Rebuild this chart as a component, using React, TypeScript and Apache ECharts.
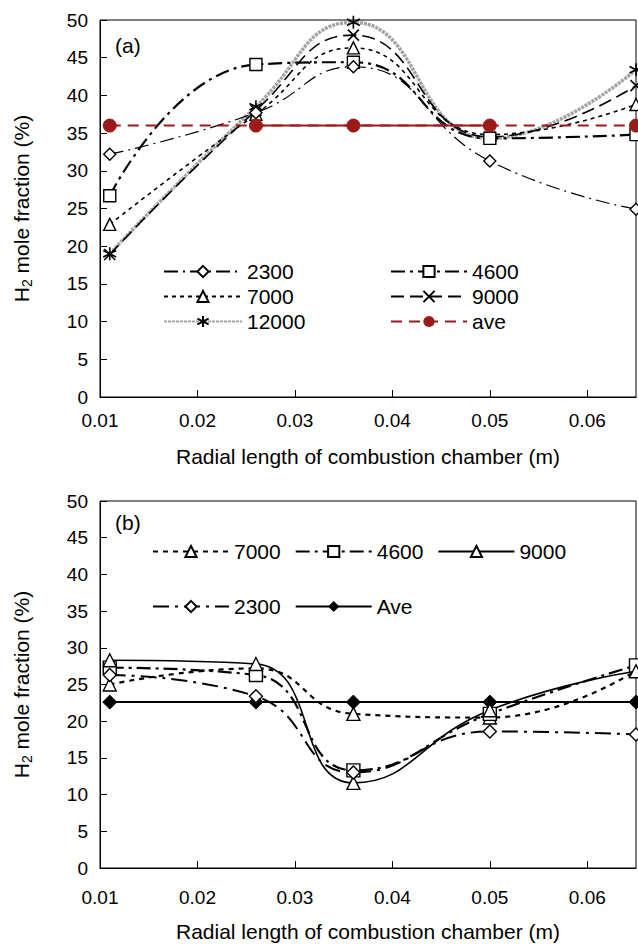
import React, { useEffect, useRef } from 'react';
import * as echarts from 'echarts';

const FONT = "'Liberation Sans', Arial, Helvetica, sans-serif";

// x positions (m)
const xPositions = [0.011, 0.026, 0.036, 0.05, 0.065];
const xMin = 0.01;
const xMax = 0.065;
const xInterval = 0.01;
const yMin = 0;
const yMax = 50;
const yInterval = 5;

// (a) series
const topNames = ['2300', '4600', '7000', '9000', '12000', 'ave'];
const top2300 = [32.2, 37.7, 43.8, 31.3, 24.9];
const top4600 = [26.7, 44.1, 44.4, 34.3, 34.8];
const top7000 = [22.9, 37.5, 46.3, 34.8, 38.8];
const top9000 = [18.9, 38.0, 48.0, 34.5, 41.3];
const top12000 = [19.0, 38.5, 49.7, 34.3, 43.4];
const topAve = [36, 36, 36, 36, 36];

// (b) series
const botNames = ['7000', '4600', '9000', '2300', 'Ave'];
const bot7000 = [25.0, 27.2, 21.0, 20.5, 26.9];
const bot4600 = [27.3, 26.3, 13.3, 21.0, 27.6];
const bot9000 = [28.3, 27.8, 11.6, 21.5, 26.8];
const bot2300 = [26.3, 23.4, 13.0, 18.6, 18.2];
const botAve = [22.6, 22.6, 22.6, 22.6, 22.6];

const RED = '#9b1b1b';
const CROSS = 'path://M0,0L10,10M10,0L0,10';
const STAR = 'path://M5,0L5,10M0.67,2.5L9.33,7.5M9.33,2.5L0.67,7.5';

const pairs = (ys: number[], from = 0, to = ys.length) =>
  xPositions.slice(from, to).map((x, i) => [x, ys[from + i]]);

const hollow = (symbol: string, size: number) => ({
  symbol,
  symbolSize: size,
  itemStyle: { color: '#fff', borderColor: '#000', borderWidth: 1.4 },
});

const strokeSym = (symbol: string, size: number) => ({
  symbol,
  symbolSize: size,
  itemStyle: { color: '#000', borderColor: '#000', borderWidth: 1.6 },
});

function axes(labelMargin: number, nameGapX: number) {
  const xAxis = {
    type: 'value',
    min: xMin,
    max: xMax,
    interval: xInterval,
    name: 'Radial length of combustion chamber (m)',
    nameLocation: 'middle',
    nameGap: nameGapX,
    nameTextStyle: { fontSize: 21, color: '#000', fontFamily: FONT },
    axisLine: { lineStyle: { color: '#000', width: 1 } },
    axisTick: { inside: true, length: 7, lineStyle: { color: '#000' } },
    axisLabel: {
      fontSize: 19,
      color: '#000',
      fontFamily: FONT,
      margin: labelMargin,
      showMaxLabel: false,
      formatter: (v: number) => (v > 0.0605 ? '' : v.toFixed(2)),
    },
    splitLine: { show: false },
  };
  const yAxis = {
    type: 'value',
    min: yMin,
    max: yMax,
    interval: yInterval,
    name: '{a|H}{s|2}{a| mole fraction (%)}',
    nameLocation: 'middle',
    nameGap: 66,
    nameTextStyle: {
      color: '#000',
      fontFamily: FONT,
      rich: {
        a: { fontSize: 21, color: '#000', fontFamily: FONT, lineHeight: 26 },
        s: { fontSize: 14, color: '#000', fontFamily: FONT, lineHeight: 26, verticalAlign: 'bottom', padding: [10, 0, 0, 0] },
      },
    },
    axisLine: { show: true, lineStyle: { color: '#000', width: 1 } },
    axisTick: { show: true, inside: true, length: 7, lineStyle: { color: '#000' } },
    axisLabel: { fontSize: 19, color: '#000', fontFamily: FONT, margin: 12 },
    splitLine: { show: false },
  };
  return { xAxis, yAxis };
}

const legendText = { fontSize: 21, color: '#000', fontFamily: FONT, lineHeight: 20 };

function topOption() {
  const { xAxis, yAxis } = axes(14, 49);
  const base = { type: 'line', smooth: 0.5, clip: false, z: 3 };
  return {
    animation: false,
    grid: { left: 100, top: 20, width: 536, height: 377, show: true, borderColor: '#000', borderWidth: 1 },
    xAxis,
    yAxis,
    legend: [
      {
        left: 158, top: 256, orient: 'vertical', itemWidth: 78, itemHeight: 14, itemGap: 4,
        data: [topNames[0], topNames[2], topNames[4]], textStyle: legendText, selectedMode: false,
      },
      {
        left: 385, top: 256, orient: 'vertical', itemWidth: 76, itemHeight: 14, itemGap: 4,
        data: [topNames[1], topNames[3], topNames[5]], textStyle: legendText, selectedMode: false,
      },
    ],
    graphic: [
      { type: 'text', left: 115, top: 35, style: { text: '(a)', fontSize: 21, fill: '#000', fontFamily: FONT } },
    ],
    series: [
      {
        ...base, name: topNames[4], data: pairs(top12000), ...strokeSym(STAR, 13),
        lineStyle: { color: '#a3a3a3', width: 3.5, type: [3, 1] },
      },
      {
        ...base, name: topNames[3], data: pairs(top9000), ...strokeSym(CROSS, 11),
        lineStyle: { color: '#000', width: 1.6, type: [13, 6] },
      },
      {
        ...base, name: topNames[2], data: pairs(top7000), ...hollow('triangle', 12),
        lineStyle: { color: '#000', width: 1.6, type: [4, 4] },
      },
      {
        ...base, name: topNames[1], data: pairs(top4600), ...hollow('rect', 12),
        lineStyle: { color: '#000', width: 2.2, type: [14, 5, 3, 5] },
      },
      {
        ...base, name: topNames[0], data: pairs(top2300), ...hollow('diamond', 12),
        lineStyle: { color: '#000', width: 1.2, type: [14, 5, 2, 5] },
      },
      {
        type: 'line', name: 'ave-solid', data: pairs(topAve, 1, 4), showSymbol: false, clip: false, z: 4,
        lineStyle: { color: RED, width: 2 }, itemStyle: { color: RED },
      },
      {
        type: 'line', name: topNames[5], data: pairs(topAve), clip: false, z: 5,
        symbol: 'circle', symbolSize: 13,
        lineStyle: { color: RED, width: 2, type: [11, 7] },
        itemStyle: { color: RED, borderColor: RED },
      },
    ],
  };
}

function botOption() {
  const { xAxis, yAxis } = axes(20, 53);
  const base = { type: 'line', smooth: 0.5, clip: false, z: 3 };
  return {
    animation: false,
    grid: { left: 100, top: 27, width: 536, height: 378, show: true, borderColor: '#000', borderWidth: 1 },
    xAxis,
    yAxis,
    legend: [
      {
        left: 147, top: 62, orient: 'horizontal', itemWidth: 76, itemHeight: 14, itemGap: 14,
        data: [botNames[0], botNames[1], botNames[2]], textStyle: legendText, selectedMode: false,
      },
      {
        left: 147, top: 117, orient: 'horizontal', itemWidth: 76, itemHeight: 14, itemGap: 14,
        data: [botNames[3], botNames[4]], textStyle: legendText, selectedMode: false,
      },
    ],
    graphic: [
      { type: 'text', left: 115, top: 38, style: { text: '(b)', fontSize: 21, fill: '#000', fontFamily: FONT } },
    ],
    series: [
      {
        ...base, name: botNames[4], data: pairs(botAve), smooth: false,
        symbol: 'diamond', symbolSize: 14,
        lineStyle: { color: '#000', width: 2 }, itemStyle: { color: '#000', borderColor: '#000' },
      },
      {
        ...base, name: botNames[0], data: pairs(bot7000), ...hollow('triangle', 13),
        lineStyle: { color: '#000', width: 2.2, type: [5, 5] },
      },
      {
        ...base, name: botNames[1], data: pairs(bot4600), ...hollow('rect', 13),
        lineStyle: { color: '#000', width: 2.2, type: [14, 5, 3, 5] },
      },
      {
        ...base, name: botNames[2], data: pairs(bot9000), ...hollow('triangle', 13),
        lineStyle: { color: '#000', width: 1.6 },
      },
      {
        ...base, name: botNames[3], data: pairs(bot2300), ...hollow('diamond', 13),
        lineStyle: { color: '#000', width: 2, type: [16, 6, 3, 6] },
      },
    ],
  };
}

export default function App() {
  const topRef = useRef<HTMLDivElement>(null);
  const botRef = useRef<HTMLDivElement>(null);
  useEffect(() => {
    document.body.style.margin = '0';
    const c1 = echarts.init(topRef.current as HTMLDivElement, null, { renderer: 'svg' });
    c1.setOption(topOption() as any);
    const c2 = echarts.init(botRef.current as HTMLDivElement, null, { renderer: 'svg' });
    c2.setOption(botOption() as any);
    return () => {
      c1.dispose();
      c2.dispose();
    };
  }, []);
  return (
    <div style={{ width: 638, height: 947, background: '#fff' }}>
      <div ref={topRef} style={{ width: 638, height: 474 }} />
      <div ref={botRef} style={{ width: 638, height: 473 }} />
    </div>
  );
}
